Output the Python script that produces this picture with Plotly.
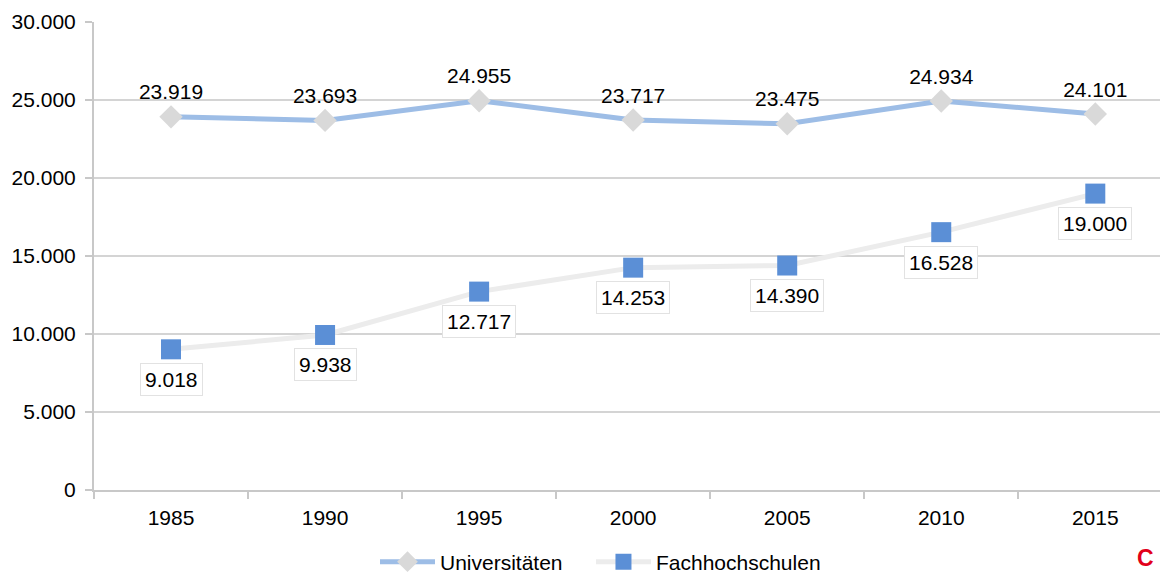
import plotly.graph_objects as go

years = ["1985", "1990", "1995", "2000", "2005", "2010", "2015"]
uni = [23919, 23693, 24955, 23717, 23475, 24934, 24101]
fh = [9018, 9938, 12717, 14253, 14390, 16528, 19000]
y_ticks = [0, 5000, 10000, 15000, 20000, 25000, 30000]


def de(v):
    return f"{v:,}".replace(",", ".")


FONT = "Liberation Sans, Arial, sans-serif"
FS = 21

fig = go.Figure()
fig.add_trace(go.Scatter(
    x=years, y=uni, name="Universitäten", mode="lines+markers+text",
    line=dict(color="#9dbde6", width=5),
    marker=dict(symbol="diamond", size=18, color="#d9d9d9", line=dict(width=0)),
    text=[de(v) for v in uni], textposition="top center",
    textfont=dict(family=FONT, size=FS, color="#000000"),
    legend="legend",
))
fig.add_trace(go.Scatter(
    x=years, y=fh, name="Fachhochschulen", mode="lines+markers",
    line=dict(color="#ececec", width=5),
    marker=dict(symbol="square", size=20, color="#5b8fd6", line=dict(width=0)),
    legend="legend2",
))

# category axis: annotation x given as the category's serial index
for i, v in enumerate(fh):
    fig.add_annotation(
        x=i, y=v, text=de(v), showarrow=False, yshift=-30,
        font=dict(family=FONT, size=FS, color="#000000"),
        bgcolor="#ffffff", bordercolor="#e2e2e2", borderwidth=1, borderpad=4,
    )

fig.add_annotation(
    xref="paper", yref="paper", x=1.0, y=-0.146, xanchor="right", yanchor="middle",
    xshift=-4, text="<b>C</b>", showarrow=False,
    font=dict(family=FONT, size=23, color="#e2001a"),
)

legend_common = dict(orientation="h", xanchor="left", y=-0.154, yanchor="middle",
                     font=dict(family=FONT, size=FS, color="#000000"),
                     itemwidth=55, bgcolor="rgba(0,0,0,0)")

fig.update_layout(
    width=1160, height=574,
    margin=dict(l=94, r=0, t=22, b=84, autoexpand=False),
    paper_bgcolor="#ffffff", plot_bgcolor="#ffffff",
    font=dict(family=FONT, size=FS, color="#000000"),
    showlegend=True,
    legend=dict(x=0.2636, **legend_common),
    legend2=dict(x=0.4662, **legend_common),
)
fig.update_xaxes(
    type="category", range=[-0.5, 6.42],
    showgrid=False, showline=True, linecolor="#c8c8c8", linewidth=2,
    ticks="outside", tickson="boundaries", ticklen=7, tickcolor="#c8c8c8", tickwidth=2,
    ticklabelstandoff=8,
    tickfont=dict(family=FONT, size=FS, color="#000000"),
    zeroline=False,
)
fig.update_yaxes(
    range=[0, 30000], tickvals=y_ticks, ticktext=[de(v) for v in y_ticks],
    showgrid=True, gridcolor="#d4d4d4", gridwidth=2,
    showline=True, linecolor="#c8c8c8", linewidth=2,
    ticks="outside", ticklen=7, tickcolor="#c8c8c8", tickwidth=2,
    ticklabelstandoff=5,
    tickfont=dict(family=FONT, size=FS, color="#000000"),
    zeroline=False,
)

fig.write_html("out.html")
